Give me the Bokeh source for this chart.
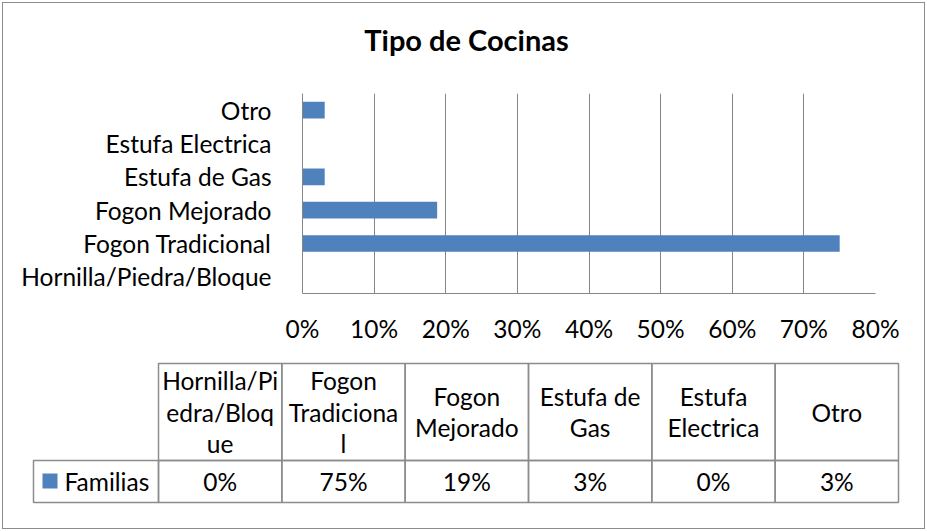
from bokeh.plotting import figure
from bokeh.layouts import column
from bokeh.models import (FactorRange, Range1d, FixedTicker, NumeralTickFormatter,
                          ColumnDataSource)
from bokeh.core.properties import value
from bokeh.embed import file_html
from bokeh.resources import INLINE

# ---------------- data ----------------
title_text = "Tipo de Cocinas"
categories = ["Hornilla/Piedra/Bloque", "Fogon Tradicional", "Fogon Mejorado",
              "Estufa de Gas", "Estufa Electrica", "Otro"]
header_labels = ["Hornilla/Pi\nedra/Bloq\nue", "Fogon\nTradiciona\nl", "Fogon\nMejorado",
                 "Estufa de\nGas", "Estufa\nElectrica", "Otro"]
series_name = "Familias"
familias = [0.0, 0.750, 0.188, 0.031, 0.0, 0.031]
x_ticks = [0.0, 0.1, 0.2, 0.3, 0.4, 0.5, 0.6, 0.7, 0.8]

# ---------------- style / layout (page pixels) ----------------
W = 927
TOP_H = 93                # title strip
CHART_H = 265             # chart strip (frame 200 px + axis labels)
TABLE_H = 531 - TOP_H - CHART_H
FL, FR = 302, 875         # plot frame left / right
FRAME_H = 200
FONT = "Lato"
BAR = "#4F81BD"
GRID = "#868686"
BORDER = "#8C8C8C"
TXT = "#000000"
FS = "24.5px"


def no_align(f):
    try:
        f.frame_align = False
    except Exception:
        pass


def blank_fig(height, y0):
    f = figure(width=W, height=height, output_backend="svg", toolbar_location=None,
               x_range=Range1d(0, W), y_range=Range1d(y0 + height, y0),
               x_axis_location=None, y_axis_location=None, min_border=0, title=None)
    f.grid.visible = False
    f.outline_line_color = None
    f.background_fill_color = None
    f.border_fill_color = None
    no_align(f)
    return f


# ---------------- title strip ----------------
top = blank_fig(TOP_H, 0)
top.text(x=[466], y=[39], text=[title_text], text_font=value(FONT),
         text_font_size=value("29px"), text_font_style="bold", text_color=TXT,
         text_align="center", text_baseline="middle")

# ---------------- chart ----------------
p = figure(width=W, height=CHART_H, output_backend="svg", toolbar_location=None,
           title=None,
           y_range=FactorRange(factors=categories, range_padding=0),
           x_range=Range1d(0, x_ticks[-1]),
           min_border_left=FL, min_border_right=W - FR,
           min_border_top=0, min_border_bottom=CHART_H - FRAME_H)
p.outline_line_color = None
p.background_fill_color = None
p.border_fill_color = None
no_align(p)

src = ColumnDataSource(dict(cat=categories, val=familias))
p.hbar(y="cat", left=0, right="val", height=0.5, source=src,
       fill_color=BAR, line_color=None)

ticker = FixedTicker(ticks=x_ticks)
p.xaxis.ticker = ticker
p.xgrid.ticker = ticker
p.xaxis.formatter = NumeralTickFormatter(format="0%")
for ax in (p.xaxis, p.yaxis):
    ax.major_tick_line_color = None
    ax.minor_tick_line_color = None
    ax.major_tick_out = 0
    ax.major_tick_in = 0
    ax.minor_tick_out = 0
    ax.axis_line_color = GRID
    ax.axis_line_width = 1
    ax.major_label_text_font = FONT
    ax.major_label_text_font_size = FS
    ax.major_label_text_color = TXT
p.xaxis.major_label_standoff = 20
p.yaxis.major_label_standoff = 31
p.xgrid.grid_line_color = GRID
p.xgrid.grid_line_width = 1
p.ygrid.grid_line_color = None

# ---------------- data table ----------------
t0 = TOP_H + CHART_H
tab = blank_fig(TABLE_H, t0)
TL, TR = 158, 898
HT, HM, HB = 363, 460, 502
LEG_L = 33
ncol = len(categories)
cw = (TR - TL) / ncol
line_h = 31.5

lefts = [TL + i * cw for i in range(ncol)]
rights = [l + cw for l in lefts]
centers = [(l + r) / 2 for l, r in zip(lefts, rights)]

# header cells and value cells
tab.quad(left=lefts + lefts + [LEG_L], right=rights + rights + [TL],
         top=[HT] * ncol + [HM] * ncol + [HM],
         bottom=[HM] * ncol + [HB] * ncol + [HB],
         fill_color=None, line_color=BORDER, line_width=1.5)

hx, hy, ht = [], [], []
cy = (HT + HM) / 2
for cx, hdr in zip(centers, header_labels):
    lines = hdr.split("\n")
    for k, ln in enumerate(lines):
        hx.append(cx)
        hy.append(cy + (k - (len(lines) - 1) / 2) * line_h)
        ht.append(ln)
tab.text(x=hx, y=hy, text=ht, text_font=value(FONT), text_font_size=value(FS),
         text_color=TXT, text_align="center", text_baseline="middle")

tab.text(x=centers, y=[(HM + HB) / 2] * ncol,
         text=[f"{round(v * 100)}%" for v in familias],
         text_font=value(FONT), text_font_size=value(FS), text_color=TXT,
         text_align="center", text_baseline="middle")

# legend key inside the table
tab.quad(left=[42], right=[57], top=[473], bottom=[488],
         fill_color=BAR, line_color=None)
tab.text(x=[64], y=[(HM + HB) / 2], text=[series_name], text_font=value(FONT),
         text_font_size=value(FS), text_color=TXT, text_align="left",
         text_baseline="middle")

layout = column(top, p, tab, spacing=0,
                styles={"outline": f"1.5px solid {BORDER}", "outline-offset": "-3px"})

open("out.html", "w").write(file_html(layout, INLINE))
